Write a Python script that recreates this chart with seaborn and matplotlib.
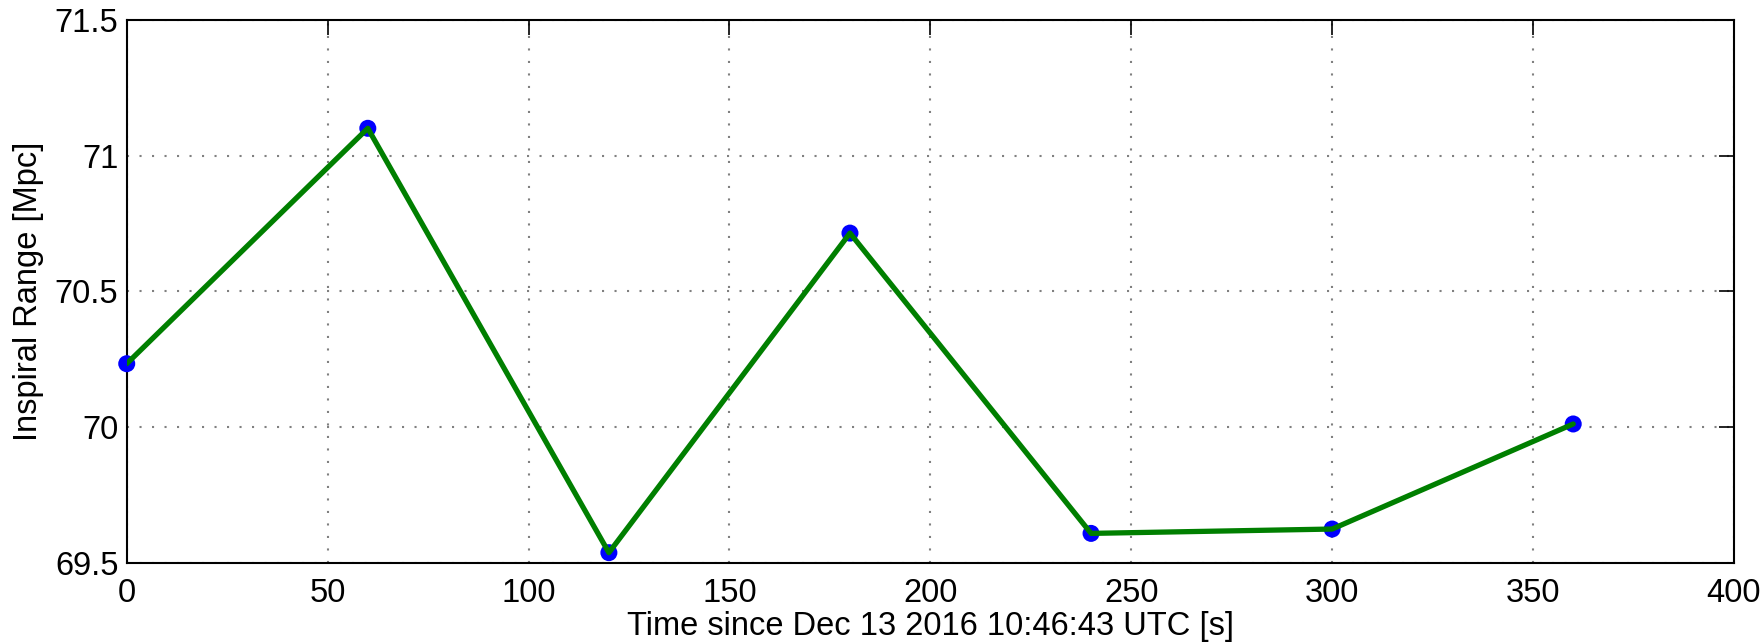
import matplotlib
matplotlib.use("Agg")
import matplotlib.pyplot as plt
import seaborn as sns
import pandas as pd

time_s = [0, 60, 120, 180, 240, 300, 360]
inspiral_range = [70.234, 71.101, 69.538, 70.715, 69.609, 69.625, 70.012]
x_ticks = [0, 50, 100, 150, 200, 250, 300, 350, 400]
y_ticks = [69.5, 70, 70.5, 71, 71.5]
y_tick_labels = ["69.5", "70", "70.5", "71", "71.5"]

df = pd.DataFrame({"t": time_s, "r": inspiral_range})

sns.set_style("white")
plt.rcParams['font.family'] = ['Liberation Sans', 'DejaVu Sans']

fig = plt.figure(figsize=(17.65, 6.44), dpi=100)
ax = fig.add_axes([0.0718, 0.1258, 0.9824 - 0.0718, 0.969 - 0.1258])

sns.scatterplot(data=df, x="t", y="r", ax=ax, color="#0000ff", s=150,
                edgecolor="none", zorder=3, clip_on=False)
sns.lineplot(data=df, x="t", y="r", ax=ax, color="#007f00", linewidth=3.8,
             zorder=4)

ax.set_xlim(0, 400)
ax.set_ylim(69.5, 71.5)
ax.set_xticks(x_ticks)
ax.set_xticklabels([str(v) for v in x_ticks])
ax.set_yticks(y_ticks)
ax.set_yticklabels(y_tick_labels)

ax.grid(True, linestyle=(0, (1, 5)), color="#808080", linewidth=1.5)
ax.tick_params(axis="both", direction="in", length=11, width=1.2,
               top=True, right=True, labelsize=23.5, colors="black",
               labelcolor="black")
ax.tick_params(axis="x", pad=11)
ax.tick_params(axis="y", pad=6)
for s in ax.spines.values():
    s.set_visible(True)
    s.set_color("black")
    s.set_linewidth(1.5)

ax.set_xlabel("Time since Dec 13 2016 10:46:43 UTC [s]", fontsize=23.5,
              labelpad=1, color="black")
ax.set_ylabel("Inspiral Range [Mpc]", fontsize=23.5, labelpad=8,
              color="black")

fig.savefig("out.png", dpi=100)
